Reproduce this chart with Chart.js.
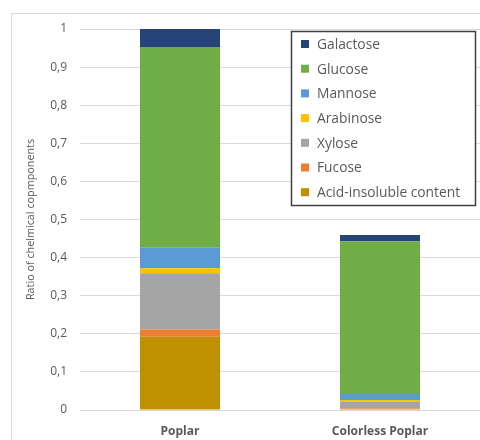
<!DOCTYPE html>
<html>
<head>
<meta charset="utf-8">
<script src="https://cdn.jsdelivr.net/npm/chart.js@4"></script>
<style>
    html, body { margin: 0; padding: 0; background: #fff; }
    #wrap { width: 480px; height: 440px; position: relative; }
</style>
</head>
<body>
<div id="wrap"><canvas id="sugarChart"></canvas></div>
<script>
const categories = ["Poplar", "Colorless Poplar"];

// stacked bottom to top
const acidInsoluble = [0.192, 0.0];
const fucose = [0.019, 0.004];
const xylose = [0.148, 0.018];
const arabinose = [0.013, 0.004];
const mannose = [0.055, 0.016];
const glucose = [0.526, 0.401];
const galactose = [0.047, 0.016];

const yTicks = [0, 0.1, 0.2, 0.3, 0.4, 0.5, 0.6, 0.7, 0.8, 0.9, 1];

const textColor = "#595959";
const gridColor = "#d9d9d9";

function series(label, data, color) {
    return {
        label: label,
        data: data,
        backgroundColor: color,
        borderWidth: 0,
        barPercentage: 0.4,
        categoryPercentage: 1.0
    };
}

const datasets = [
    series("Acid-insoluble content", acidInsoluble, "#bf9000"),
    series("Fucose", fucose, "#ed7d31"),
    series("Xylose", xylose, "#a5a5a5"),
    series("Arabinose", arabinose, "#ffc000"),
    series("Mannose", mannose, "#5b9bd5"),
    series("Glucose", glucose, "#70ad47"),
    series("Galactose", galactose, "#264478")
];

// outer frame + boxed legend inside the plot
const boxLegend = {
    id: "boxLegend",
    beforeDraw(chart) {
        const ctx = chart.ctx;
        ctx.save();
        ctx.strokeStyle = gridColor;
        ctx.lineWidth = 1;
        ctx.beginPath();
        ctx.moveTo(11.5, chart.height);
        ctx.lineTo(11.5, 13.5);
        ctx.lineTo(chart.width, 13.5);
        ctx.stroke();
        ctx.restore();
    },
    afterDraw(chart) {
        const ctx = chart.ctx;
        const x0 = 291.5, y0 = 31.5, w = 184, h = 174;
        ctx.save();
        ctx.fillStyle = "#fff";
        ctx.fillRect(x0, y0, w, h);
        ctx.strokeStyle = "#404040";
        ctx.lineWidth = 1.5;
        ctx.strokeRect(x0, y0, w, h);
        ctx.font = "13.8px 'Open Sans'";
        ctx.textBaseline = "middle";
        const items = chart.data.datasets.slice().reverse();
        items.forEach((ds, i) => {
            const y = 44 + i * 24.7;
            ctx.fillStyle = ds.backgroundColor;
            ctx.fillRect(301, y - 4, 8, 8);
            ctx.fillStyle = textColor;
            ctx.fillText(ds.label, 317, y + 1);
        });
        ctx.restore();
    }
};

new Chart(document.getElementById("sugarChart"), {
    type: "bar",
    data: {
        labels: categories,
        datasets: datasets
    },
    plugins: [boxLegend],
    options: {
        responsive: true,
        maintainAspectRatio: false,
        animation: false,
        layout: {
            padding: { left: 24, top: 29, right: 0, bottom: 0 }
        },
        plugins: {
            legend: { display: false },
            tooltip: { enabled: false }
        },
        scales: {
            x: {
                stacked: true,
                afterFit: (scale) => { scale.height = 30; },
                grid: { display: false },
                border: { display: false },
                ticks: {
                    color: textColor,
                    padding: 6,
                    font: { family: "'Open Sans'", size: 12, weight: "bold" }
                }
            },
            y: {
                stacked: true,
                min: 0,
                max: 1,
                afterFit: (scale) => { scale.width = 56; },
                afterBuildTicks: (scale) => {
                    scale.ticks = yTicks.map(v => ({ value: v }));
                },
                grid: {
                    color: gridColor,
                    lineWidth: 1,
                    drawTicks: false
                },
                border: { display: false },
                ticks: {
                    color: textColor,
                    padding: 13,
                    font: { family: "'Open Sans'", size: 12 },
                    callback: (v) => (v === 0 || v === 1) ? String(v) : v.toFixed(1).replace(".", ",")
                },
                title: {
                    display: true,
                    text: "Ratio of chelmical copmponents",
                    color: textColor,
                    padding: 0,
                    font: { family: "'Open Sans'", size: 10.8 }
                }
            }
        }
    }
});
</script>
</body>
</html>
